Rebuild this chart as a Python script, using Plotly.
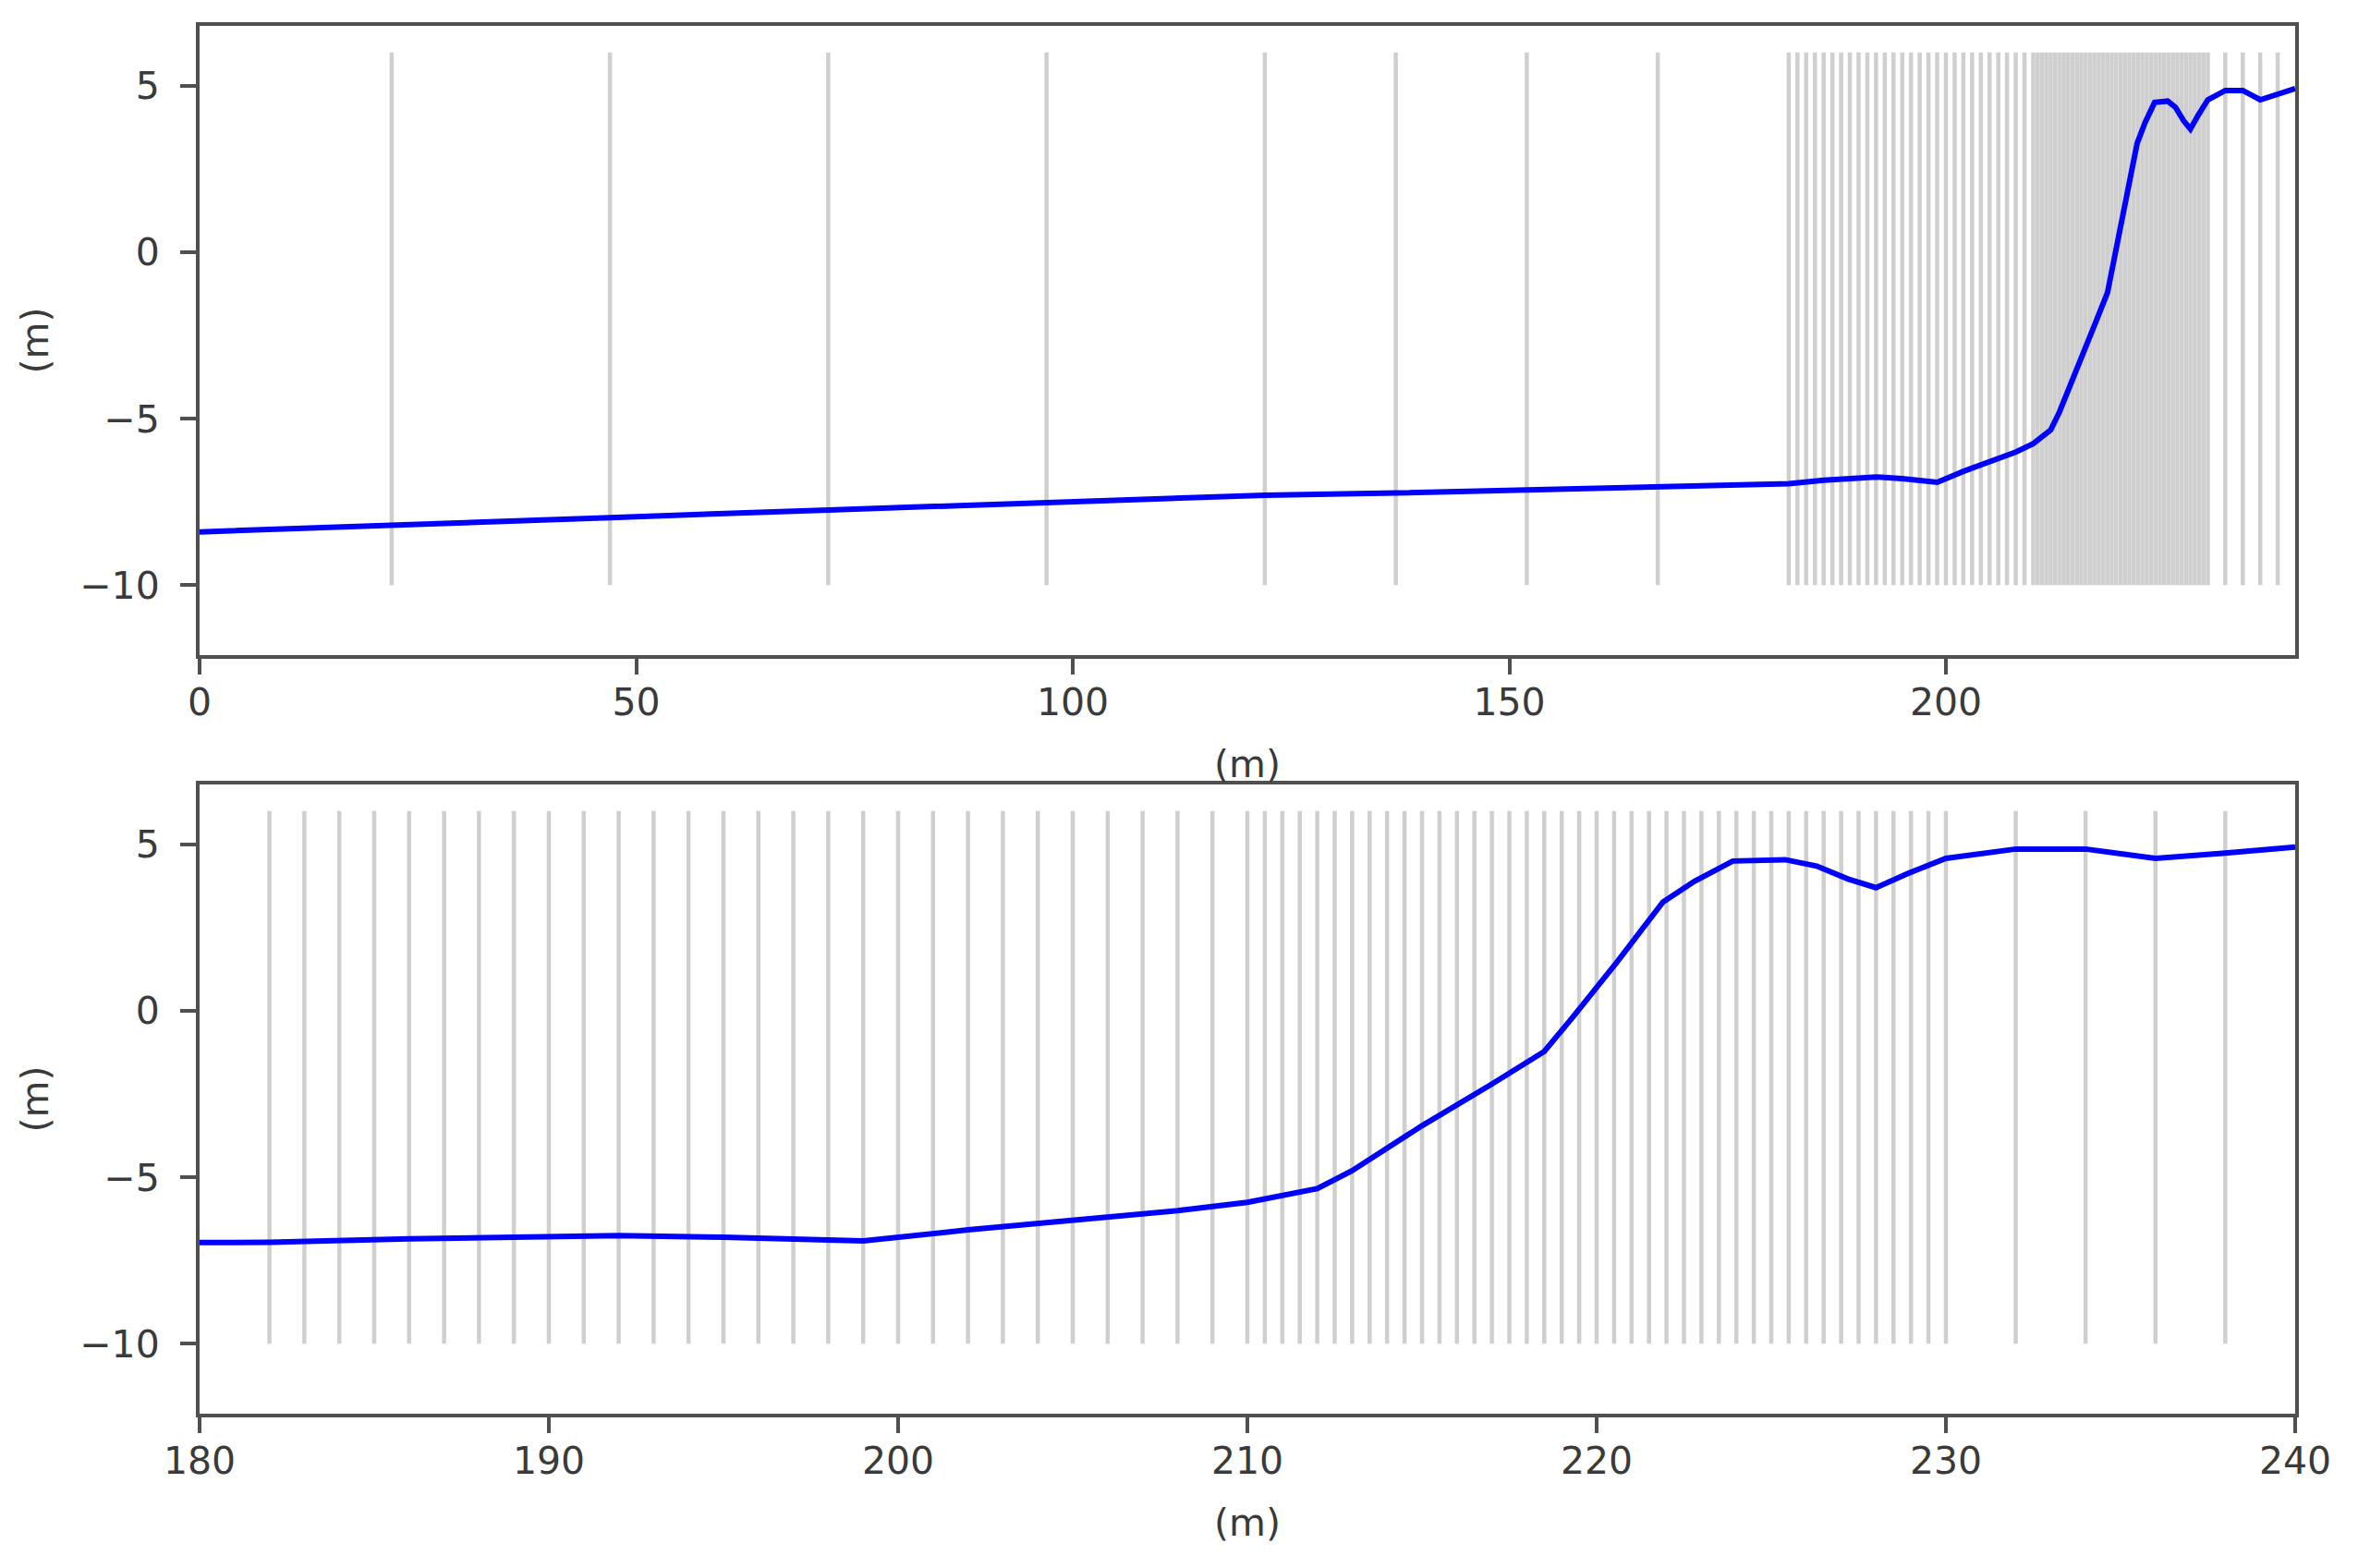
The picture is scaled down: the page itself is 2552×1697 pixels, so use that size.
import plotly.graph_objects as go
from plotly.subplots import make_subplots

# Bed profile along the transect.
profile_x = [0, 22, 47, 72, 97, 122, 137, 152, 167, 182, 186, 190, 192, 195, 199,
             202, 205, 208, 210, 212, 213, 215, 217, 218.5, 219.3, 220.6, 221.9,
             222.8, 223.9, 225.4, 226.3, 227.2, 228, 228.9, 230, 232, 234, 236, 238, 240]
profile_z = [-8.40, -8.18, -7.97, -7.74, -7.50, -7.30, -7.23, -7.13, -7.02, -6.95,
             -6.85, -6.76, -6.75, -6.80, -6.91, -6.58, -6.30, -6.00, -5.75, -5.34,
             -4.80, -3.45, -2.20, -1.22, -0.21, 1.49, 3.27, 3.89, 4.50, 4.54, 4.35,
             3.96, 3.70, 4.12, 4.58, 4.86, 4.86, 4.58, 4.74, 4.92]

# Grid node positions (vertical lines).
grid_x = [22, 47, 72, 97, 122, 137, 152, 167,
          182, 183, 184, 185, 186, 187, 188, 189, 190, 191, 192, 193, 194, 195,
          196, 197, 198, 199, 200, 201, 202, 203, 204, 205, 206, 207, 208, 209, 210,
          210.5, 211, 211.5, 212, 212.5, 213, 213.5, 214, 214.5, 215, 215.5, 216,
          216.5, 217, 217.5, 218, 218.5, 219, 219.5, 220, 220.5, 221, 221.5, 222,
          222.5, 223, 223.5, 224, 224.5, 225, 225.5, 226, 226.5, 227, 227.5, 228,
          228.5, 229, 229.5, 230, 232, 234, 236, 238]
grid_bottom = -10
grid_top = 6

font = dict(family="DejaVu Sans", size=41, color="#3a3a3a")

fig = make_subplots(rows=2, cols=1, vertical_spacing=0.0932)

# vertical lines as one trace per panel, separated by None
vx, vy = [], []
for g in grid_x:
    vx += [g, g, None]
    vy += [grid_bottom, grid_top, None]

for row in (1, 2):
    fig.add_trace(go.Scatter(x=vx, y=vy, mode="lines",
                             line=dict(color="rgba(128,128,128,0.38)", width=4.5),
                             hoverinfo="skip", showlegend=False), row=row, col=1)
    fig.add_trace(go.Scatter(x=profile_x, y=profile_z, mode="lines",
                             line=dict(color="#0000ff", width=6),
                             showlegend=False), row=row, col=1)

axis_style = dict(showgrid=False, zeroline=False, showline=True, mirror=True,
                  automargin=False,
                  linecolor="#505050", linewidth=4, ticks="outside", ticklen=17,
                  tickwidth=4, tickcolor="#505050", tickfont=font)

fig.update_xaxes(**axis_style, ticklabelstandoff=-5)
fig.update_yaxes(**axis_style, ticklabelstandoff=14)

fig.update_xaxes(range=[0, 240], dtick=50, tick0=0,
                 title=dict(text="(m)", font=font, standoff=30), row=1, col=1)
fig.update_xaxes(range=[180, 240], dtick=10, tick0=180,
                 title=dict(text="(m)", font=font, standoff=30), row=2, col=1)
fig.update_yaxes(range=[-12.1, 6.8], tickvals=[-10, -5, 0, 5],
                 title=dict(text="(m)", font=font, standoff=22))

# page body has an 8px margin, so the figure is shrunk by that much
fig.update_layout(
    width=2544, height=1689,
    margin=dict(l=208, r=68, t=20, b=167),
    plot_bgcolor="white", paper_bgcolor="white",
    font=font,
)

fig.write_html("out.html")
